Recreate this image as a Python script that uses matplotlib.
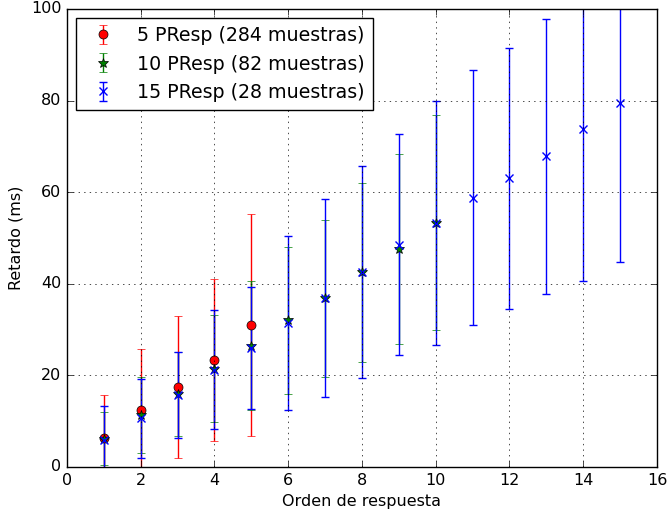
import matplotlib
matplotlib.use("Agg")
import matplotlib.pyplot as plt

plt.style.use("classic")
plt.rcParams["figure.facecolor"] = "white"
plt.rcParams["savefig.facecolor"] = "white"

# Delay per response order, for three response-count groups
x5 = [1, 2, 3, 4, 5]
mean5 = [6.3, 12.4, 17.5, 23.4, 31.0]
err5 = [9.4, 13.4, 15.5, 17.7, 24.2]

x10 = [1, 2, 3, 4, 5, 6, 7, 8, 9, 10]
mean10 = [6.2, 11.3, 16.0, 21.5, 26.5, 32.0, 36.8, 42.5, 47.6, 53.3]
err10 = [5.8, 8.3, 9.2, 11.7, 14.0, 16.0, 17.1, 19.5, 20.7, 23.5]

x15 = [1, 2, 3, 4, 5, 6, 7, 8, 9, 10, 11, 12, 13, 14, 15]
mean15 = [6.0, 10.6, 15.7, 21.2, 26.0, 31.5, 36.9, 42.6, 48.5, 53.2,
          58.8, 63.0, 67.8, 73.7, 79.4]
err15 = [7.3, 8.6, 9.4, 13.0, 13.4, 19.0, 21.7, 23.1, 24.1, 26.6,
         27.8, 28.4, 30.0, 33.0, 34.6]

labels = ["5 PResp (284 muestras)", "10 PResp (82 muestras)",
          "15 PResp (28 muestras)"]

fig = plt.figure(figsize=(6.67, 5.13), dpi=100)
ax = fig.add_axes([0.1004, 0.0897, 0.8846, 0.8928])

ax.errorbar(x5, mean5, yerr=err5, fmt="o", color="red", ecolor="red",
            mec="black", ms=6.5, capsize=3, label=labels[0])
ax.errorbar(x10, mean10, yerr=err10, fmt="*", color="green", ecolor="green",
            mec="black", ms=7, capsize=3, label=labels[1])
ax.errorbar(x15, mean15, yerr=err15, fmt="x", color="blue", ecolor="blue",
            mec="blue", ms=6, mew=1, capsize=3, label=labels[2])

ax.set_xlim(0, 16)
ax.set_ylim(0, 100)
ax.set_xlabel("Orden de respuesta", fontsize=11.5)
ax.set_ylabel("Retardo (ms)", fontsize=11.5)
ax.tick_params(labelsize=11.5)
ax.grid(True, color="black", linestyle=":")

ax.legend(loc="upper left", numpoints=1, fontsize=13.7, fancybox=False,
          borderaxespad=0.5)

fig.savefig("out.png", dpi=100)
